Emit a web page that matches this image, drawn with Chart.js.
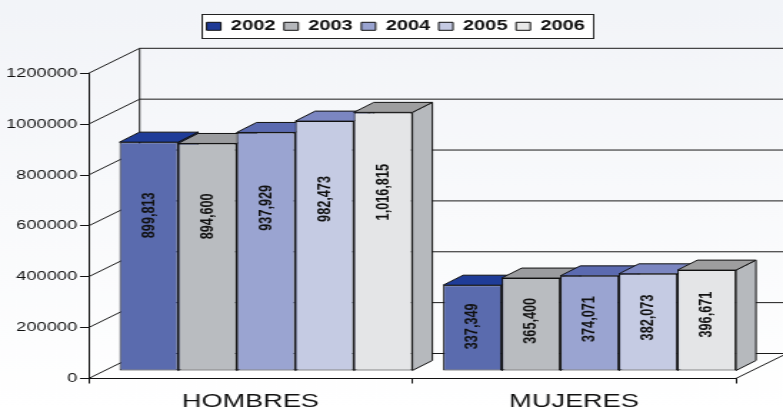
<!DOCTYPE html>
<html><head><meta charset="utf-8">
<script src="https://cdn.jsdelivr.net/npm/chart.js@4/dist/chart.umd.min.js"></script>
<style>html,body{margin:0;padding:0;background:#fff;overflow:hidden}
canvas{display:block}</style>
</head><body>
<canvas id="c" width="548" height="408" style="width:783px;height:408px"></canvas>
<script>
// ---- data ----
const categories = ['HOMBRES', 'MUJERES'];
const years = ['2002', '2003', '2004', '2005', '2006'];
const v2002 = [899813, 337349];
const v2003 = [894600, 365400];
const v2004 = [937929, 374071];
const v2005 = [982473, 382073];
const v2006 = [1016815, 396671];
const yMin = 0, yMax = 1200000, yStep = 200000;

// ---- style ----
const frontColors  = ['#5A6BAE', '#B9BCC0', '#9AA4D1', '#C5CBE3', '#E4E5E7'];
const legendColors = ['#1F3A96', '#B4B6BA', '#99A3D0', '#C5CAE3', '#E8E8E8'];
const topColors    = ['#1F3C98', '#9B9C9F', '#5B6AB0', '#7B86C1', '#9E9E9F'];
const sideColors   = ['#2A3C86', '#9C9FA2', '#6E7AB8', '#98A0CE', '#B6B9BD'];
const FONT = '"Liberation Sans", Arial, Helvetica, sans-serif';
const DEPTH_DX = 35.7, DEPTH_DY = -25;
const SHIFT_X = 10.85, SHIFT_Y = -7.5;
const BAR_DX = 14, BAR_DY = -10;
const LABEL_K = 0.776, LABEL_C = -22;
const LEGEND_LEFT = 138.6, LEGEND_TOP = 13.3;

const seriesValues = [v2002, v2003, v2004, v2005, v2006];

function fmt(n) { return String(n).replace(/\B(?=(\d{3})+(?!\d))/g, ','); }

function poly(ctx, pts, fill) {
  ctx.beginPath();
  ctx.moveTo(pts[0][0], pts[0][1]);
  for (let k = 1; k < pts.length; k++) ctx.lineTo(pts[k][0], pts[k][1]);
  ctx.closePath();
  ctx.fillStyle = fill; ctx.fill(); ctx.stroke();
}

const threeD = {
  id: 'threeD',
  afterLayout(chart) {
    const lg = chart.legend;
    if (!lg) return;
    const w = lg.right - lg.left, h = lg.bottom - lg.top;
    lg.left = LEGEND_LEFT; lg.right = LEGEND_LEFT + w;
    lg.top = LEGEND_TOP; lg.bottom = LEGEND_TOP + h;
  },
  beforeDraw(chart) {
    const {ctx, width, height} = chart;
    ctx.save();
    const g = ctx.createLinearGradient(0, 0, 0, height);
    g.addColorStop(0, '#f2f4f8'); g.addColorStop(1, '#ffffff');
    ctx.fillStyle = g; ctx.fillRect(0, 0, width, height);
    const hb = chart.legend && chart.legend.legendHitBoxes;
    if (hb && hb.length) {
      const last = hb[hb.length - 1];
      const l = hb[0].left - 4, r = last.left + last.width + 5;
      const t = hb[0].top - 5, h = hb[0].height + 10;
      ctx.fillStyle = '#ffffff'; ctx.fillRect(l, t, r - l, h);
      ctx.strokeStyle = '#222'; ctx.lineWidth = 1;
      ctx.strokeRect(Math.round(l) + 0.5, Math.round(t) + 0.5, Math.round(r - l), Math.round(h));
    }
    ctx.restore();
  },
  beforeDatasetsDraw(chart) {
    const {ctx, chartArea: ca} = chart;
    const y = chart.scales.y;
    ctx.save();
    ctx.strokeStyle = '#1a1a1a'; ctx.lineWidth = 1;
    const bx = ca.left + DEPTH_DX;
    y.ticks.forEach(t => {
      const py = y.getPixelForValue(t.value);
      ctx.beginPath();
      ctx.moveTo(ca.left, py);
      ctx.lineTo(bx, py + DEPTH_DY);
      ctx.lineTo(chart.width, py + DEPTH_DY);
      ctx.stroke();
    });
    ctx.beginPath();
    ctx.moveTo(bx, y.getPixelForValue(yMin) + DEPTH_DY);
    ctx.lineTo(bx, y.getPixelForValue(yMax) + DEPTH_DY);
    ctx.stroke();
    ctx.beginPath();
    ctx.moveTo(ca.right, y.getPixelForValue(yMin));
    ctx.lineTo(ca.right + DEPTH_DX, y.getPixelForValue(yMin) + DEPTH_DY);
    ctx.stroke();
    ctx.strokeStyle = '#111'; ctx.lineWidth = 1; ctx.lineJoin = 'round';
    for (let j = 0; j < categories.length; j++) {
      chart.data.datasets.forEach((ds, i) => {
        const el = chart.getDatasetMeta(i).data[j];
        const p = el.getProps(['x', 'y', 'base', 'width'], true);
        const L = p.x - p.width / 2 + SHIFT_X, R = p.x + p.width / 2 + SHIFT_X;
        const T = p.y + SHIFT_Y, B = p.base + SHIFT_Y;
        poly(ctx, [[R, T], [R + BAR_DX, T + BAR_DY], [R + BAR_DX, B + BAR_DY], [R, B]], sideColors[i]);
        poly(ctx, [[L, T], [L + BAR_DX, T + BAR_DY], [R + BAR_DX, T + BAR_DY], [R, T]], topColors[i]);
      });
    }
    ctx.restore();
    ctx.save();
    ctx.translate(SHIFT_X, SHIFT_Y);
  },
  afterDatasetsDraw(chart) {
    const ctx = chart.ctx;
    ctx.restore();
    ctx.save();
    ctx.fillStyle = '#111';
    ctx.font = 'bold 12.7px ' + FONT;
    ctx.textAlign = 'center'; ctx.textBaseline = 'middle';
    chart.data.datasets.forEach((ds, i) => {
      chart.getDatasetMeta(i).data.forEach((el, j) => {
        const p = el.getProps(['x', 'y', 'base'], true);
        const h = p.base - p.y;
        const cx = p.x + SHIFT_X;
        const cy = p.base + SHIFT_Y - (LABEL_K * h + LABEL_C);
        ctx.save();
        ctx.translate(cx, cy);
        ctx.rotate(-Math.PI / 2);
        ctx.fillText(fmt(ds.data[j]), 0, 0);
        ctx.restore();
      });
    });
    ctx.restore();
  }
};

new Chart(document.getElementById('c'), {
  type: 'bar',
  data: {
    labels: categories,
    datasets: years.map((yr, i) => ({
      label: yr,
      data: seriesValues[i],
      backgroundColor: frontColors[i],
      borderColor: '#111',
      borderWidth: 1,
      borderSkipped: false,
      barPercentage: 1,
      categoryPercentage: 0.905
    }))
  },
  options: {
    responsive: false,
    animation: false,
    devicePixelRatio: 1,
    events: [],
    layout: { padding: { left: 0, right: 33, top: 43.3, bottom: 0 } },
    plugins: {
      tooltip: { enabled: false },
      legend: {
        position: 'top',
        align: 'start',
        labels: {
          boxWidth: 10, boxHeight: 8, padding: 6,
          color: '#111',
          font: { family: FONT, size: 14, weight: 'bold' },
          generateLabels(chart) {
            return chart.data.datasets.map((ds, i) => ({
              text: ds.label, fillStyle: legendColors[i], strokeStyle: '#111',
              lineWidth: 1, hidden: false, datasetIndex: i, fontColor: '#111'
            }));
          }
        }
      }
    },
    scales: {
      x: {
        afterFit(s) { s.height = 29.5; },
        grid: { drawOnChartArea: false, drawTicks: true, tickLength: 5, color: '#111' },
        border: { color: '#111', width: 1 },
        ticks: { color: '#111', padding: 7, font: { family: FONT, size: 19 } }
      },
      y: {
        min: yMin, max: yMax,
        afterFit(s) { s.width = 62; },
        grid: { drawOnChartArea: false, drawTicks: true, tickLength: 6, color: '#111' },
        border: { color: '#111', width: 1 },
        ticks: {
          stepSize: yStep, color: '#111', padding: 2,
          font: { family: FONT, size: 12.8 },
          callback: v => String(v)
        }
      }
    }
  },
  plugins: [threeD]
});
</script>
</body></html>
